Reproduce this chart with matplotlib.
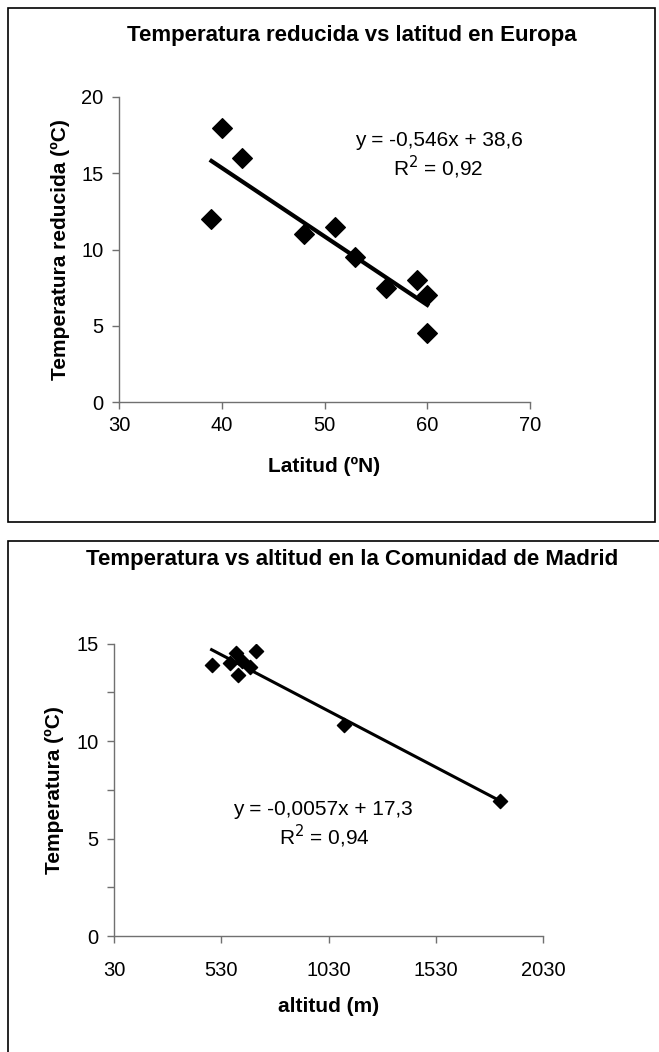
import matplotlib
matplotlib.use("Agg")
import matplotlib.pyplot as plt
import numpy as np
from matplotlib.patches import Rectangle

plt.rcParams['font.family'] = ['Liberation Sans', 'DejaVu Sans']

# --- data: reduced temperature vs latitude (Europe)
lat = [39, 40, 42, 48, 51, 53, 56, 59, 60, 60]
temp_red = [12, 18, 16, 11, 11.5, 9.5, 7.5, 8, 7, 4.5]
eq_top = "y = -0,546x + 38,6"
r2_top = "R$^2$ = 0,92"

# --- data: temperature vs altitude (Madrid)
alt = [485, 571, 598, 606, 626, 665, 691, 1100, 1830]
temp = [13.9, 14.0, 14.5, 13.4, 14.1, 13.8, 14.6, 10.8, 6.9]
eq_bot = "y = -0,0057x + 17,3"
r2_bot = "R$^2$ = 0,94"

W, H = 659, 1052
fig = plt.figure(figsize=(W / 100, H / 100), dpi=100)


def fx(px):
    return px / W


def fy(py):
    return 1 - py / H


# frames around each chart
fig.add_artist(Rectangle((fx(8), fy(522)), fx(647), 514 / H, transform=fig.transFigure,
                         fill=False, lw=1.2, ec='black'))
fig.add_artist(Rectangle((fx(8), fy(1080)), fx(700), 539 / H, transform=fig.transFigure,
                         fill=False, lw=1.2, ec='black', clip_on=False))


def style_axes(ax, pad):
    for s in ['top', 'right']:
        ax.spines[s].set_visible(False)
    for s in ['left', 'bottom']:
        ax.spines[s].set_color('#707070')
        ax.spines[s].set_linewidth(1)
    ax.tick_params(direction='out', length=5, width=1, color='#707070', labelsize=14.5, pad=6)
    ax.tick_params(axis='x', pad=pad)


def trend(ax, x, y, lw):
    k, b = np.polyfit(x, y, 1)
    xs = np.array([min(x), max(x)])
    ax.plot(xs, k * xs + b, color='black', lw=lw, zorder=2)


# ---------------- top chart
ax1 = fig.add_axes([fx(119), fy(402), fx(411), 305 / H])
ax1.scatter(lat, temp_red, marker='D', s=100, color='black', zorder=3)
trend(ax1, lat, temp_red, 3.0)
ax1.set_xlim(30, 70)
ax1.set_ylim(0, 20)
ax1.set_xticks([30, 40, 50, 60, 70])
ax1.set_yticks([0, 5, 10, 15, 20])
style_axes(ax1, 5)
ax1.text(61.1, 17.15, eq_top, ha='center', va='center', fontsize=15)
ax1.text(61.1, 15.4, r2_top, ha='center', va='center', fontsize=15)
ax1.set_xlabel("Latitud (ºN)", fontsize=15, fontweight='bold', labelpad=16)
ax1.set_ylabel("Temperatura reducida (ºC)", fontsize=15, fontweight='bold', labelpad=8)
fig.text(fx(352), fy(35), "Temperatura reducida vs latitud en Europa",
         ha='center', va='center', fontsize=16, fontweight='bold')

# ---------------- bottom chart
ax2 = fig.add_axes([fx(114), fy(936), fx(429), 292.4 / H])
ax2.scatter(alt, temp, marker='D', s=52, color='black', zorder=3)
trend(ax2, alt, temp, 2.2)
ax2.set_xlim(30, 2030)
ax2.set_ylim(0, 15)
ax2.set_xticks([30, 530, 1030, 1530, 2030])
ax2.set_yticks([0, 5, 10, 15])
ax2.set_yticks([2.5, 7.5, 12.5], minor=True)
style_axes(ax2, 13)
ax2.tick_params(which='minor', direction='out', length=5, width=1, color='#707070')
ax2.text(1004, 6.5, eq_bot, ha='center', va='center', fontsize=15)
ax2.text(1010, 5.1, r2_bot, ha='center', va='center', fontsize=15)
ax2.set_xlabel("altitud (m)", fontsize=15, fontweight='bold', labelpad=12)
ax2.set_ylabel("Temperatura (ºC)", fontsize=15, fontweight='bold', labelpad=9)
fig.text(fx(352), fy(560), "Temperatura vs altitud en la Comunidad de Madrid",
         ha='center', va='center', fontsize=16, fontweight='bold')

fig.savefig("out.png", dpi=100, facecolor='white')
